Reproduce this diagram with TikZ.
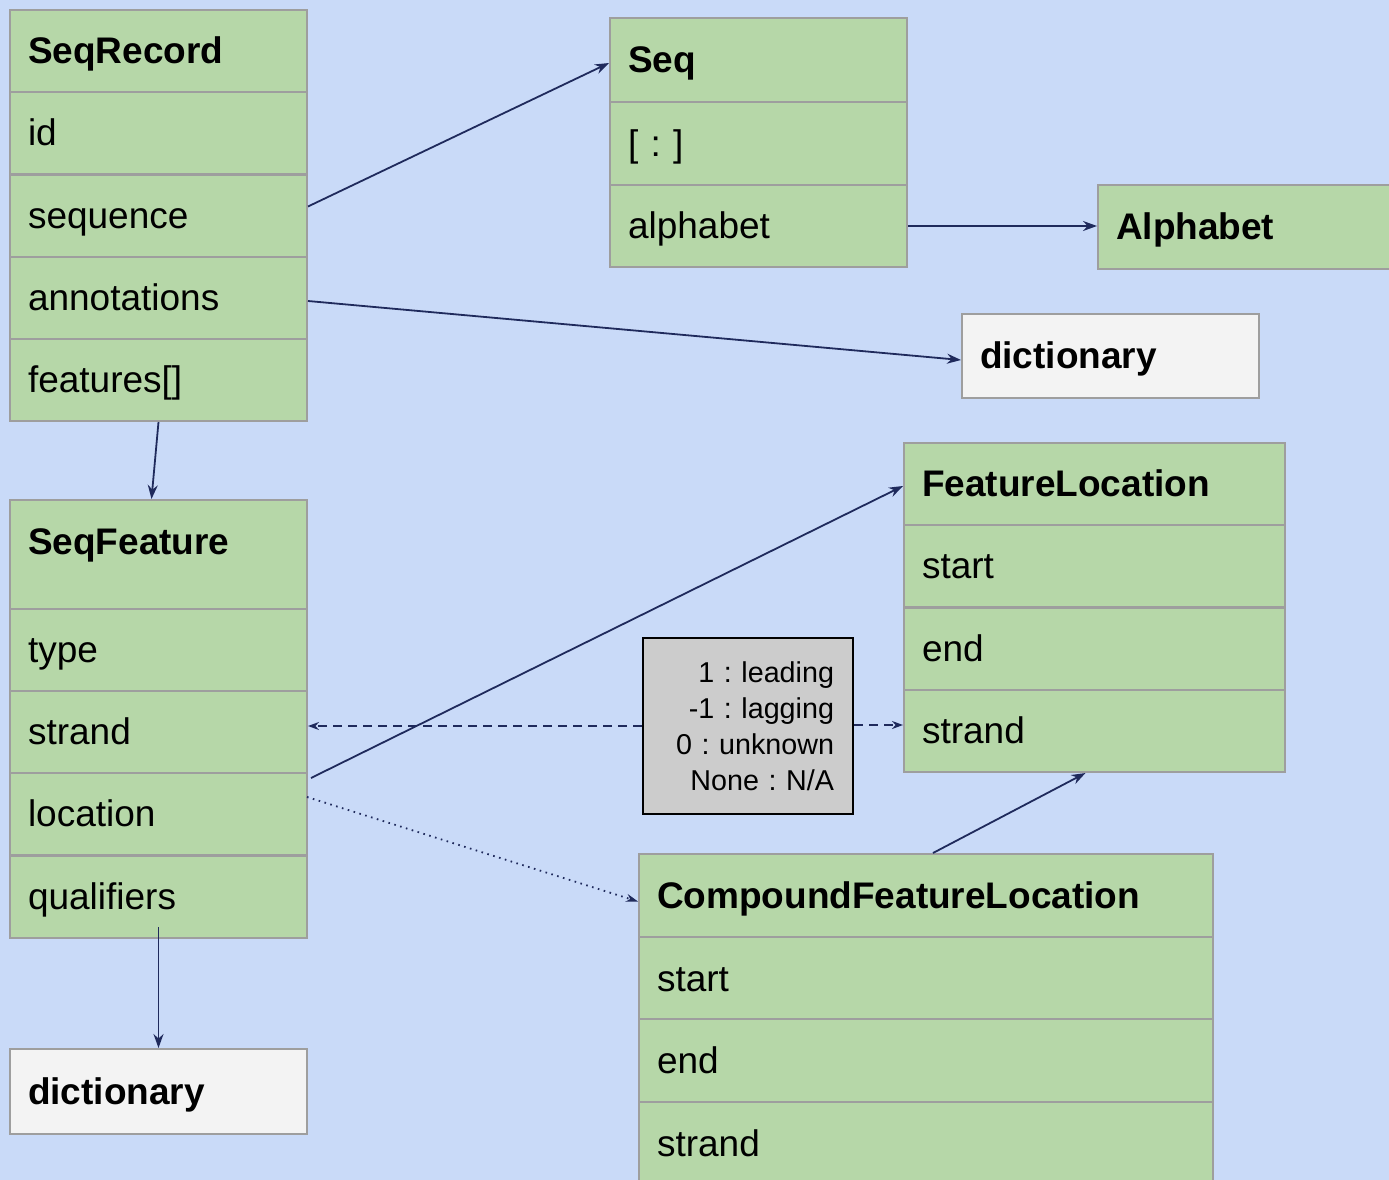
\documentclass[tikz,border=0pt]{standalone}
\usepackage{fontspec}
\setmainfont{Liberation Sans}
\usetikzlibrary{arrows.meta,calc}
\definecolor{canvas}{HTML}{C9DAF8}
\definecolor{cellgreen}{HTML}{B6D7A8}
\definecolor{cellline}{HTML}{9E9E9E}
\definecolor{dictfill}{HTML}{F3F3F3}
\definecolor{notefill}{HTML}{CCCCCC}
\definecolor{wire}{HTML}{1F2A5C}

\begin{document}
\frenchspacing
\begin{tikzpicture}[x=1pt,y=-1pt,
  cell/.style={draw=cellline, line width=2pt, fill=cellgreen, anchor=north west,
    inner xsep=17pt, inner ysep=0pt, text height=33.5pt, text depth=7.8pt,
    align=left, font=\fontsize{37}{44}\selectfont, minimum height=82pt},
  head/.style={cell, inner xsep=18pt, font=\fontsize{37}{44}\selectfont\bfseries},
  dict/.style={head, fill=dictfill},
  narrow/.style={minimum width=297pt, text width=261pt},
  wide/.style={minimum width=381pt, text width=345pt},
  widest/.style={minimum width=574pt, text width=538pt},
  link/.style={draw=wire, line width=1.8pt, -{Stealth[length=14pt,width=10pt]}},
  hint/.style={draw=wire, line width=1.8pt, dash pattern=on 9pt off 6pt,
    -{Stealth[open,length=11pt,width=8pt]}},
  faint/.style={draw=wire, line width=1.8pt, dash pattern=on 1.6pt off 4.5pt,
    -{Stealth[length=12pt,width=8pt]}},
]
\fill[canvas] (0,0) rectangle (1389,1180);
\useasboundingbox (0,0) rectangle (1389,1180);
\clip (0,0) rectangle (1389,1180);

% SeqRecord
\node[head, narrow] (rec-h)    at (9,9)     {SeqRecord};
\node[cell, narrow] (rec-id)   at (9,91)    {id};
\node[cell, narrow] (rec-seq)  at (9,173.5) {sequence};
\node[cell, narrow] (rec-ann)  at (9,256)   {annotations};
\node[cell, narrow] (rec-feat) at (9,338)   {features[]};

% Seq
\node[head, narrow, minimum height=84pt] (seq-h)     at (609,17)  {Seq};
\node[cell, narrow, minimum height=83pt] (seq-slice) at (609,101) {[ : ]};
\node[cell, narrow, minimum height=82pt] (seq-alpha) at (609,184) {alphabet};

% Alphabet
\node[head, minimum width=330pt, text width=294pt, minimum height=84pt] (alph) at (1097,184) {Alphabet};

% annotation dictionary
\node[dict, narrow, minimum height=84pt] (dict1) at (961,313) {dictionary};

% SeqFeature
\node[head, narrow, minimum height=109pt, text depth=33.4pt] (sf-h) at (9,499) {SeqFeature};
\node[cell, narrow] (sf-type)   at (9,608) {type};
\node[cell, narrow] (sf-strand) at (9,690) {strand};
\node[cell, narrow] (sf-loc)    at (9,772) {location};
\node[cell, narrow] (sf-qual)   at (9,855) {qualifiers};

% qualifiers dictionary
\node[dict, narrow, minimum height=85pt] (dict2) at (9,1048) {dictionary};

% FeatureLocation
\node[head, wide] (fl-h)      at (903,442) {FeatureLocation};
\node[cell, wide] (fl-start)  at (903,524) {start};
\node[cell, wide] (fl-end)    at (903,607) {end};
\node[cell, wide] (fl-strand) at (903,689) {strand};

% CompoundFeatureLocation
\node[head, widest, minimum height=83pt] (cfl-h)      at (638,853)  {CompoundFeatureLocation};
\node[cell, widest, minimum height=83pt] (cfl-start)  at (638,936)  {start};
\node[cell, widest, minimum height=83pt] (cfl-end)    at (638,1018) {end};
\node[cell, widest, minimum height=83pt] (cfl-strand) at (638,1101) {strand};

% strand values
\node[draw=black, line width=2pt, fill=notefill, anchor=north west,
      minimum width=210pt, minimum height=176pt, text width=172pt,
      inner xsep=19pt, align=right,
      font=\fontsize{28.7}{36}\selectfont] (note) at (642,637)
  {1 : leading\\-1 : lagging\\0 : unknown\\None : N/A};

% connectors
\draw[link] ($(rec-seq.east)+(0,-9)$) -- ($(seq-h.west)+(0,3)$);
\draw[link] (seq-alpha.east) -- (seq-alpha.east -| alph.west);
\draw[link] ($(rec-ann.east)+(0,3)$) -- ($(dict1.west)+(0,4)$);
\draw[link] (rec-feat.south) -- ($(sf-h.north)+(-7,0)$);
\draw[link] ($(sf-loc.north east)+(3,6)$) -- ($(fl-h.west)+(0,2)$);
\draw[hint] (note.west) -- (note.west -| sf-strand.east);
\draw[hint] ($(note.east)+(0,-1)$) -- ($(note.east -| fl-strand.west)+(0,-1)$);
\draw[faint] ($(sf-loc.east)+(-1,-17)$) -- ($(cfl-h.west)+(0,6)$);
\draw[link] ($(cfl-h.north)+(7,0)$) -- ($(fl-strand.south)+(-9,0)$);
\draw[link] ($(sf-qual.south)+(0,-12)$) -- (dict2.north);
\end{tikzpicture}
\end{document}
